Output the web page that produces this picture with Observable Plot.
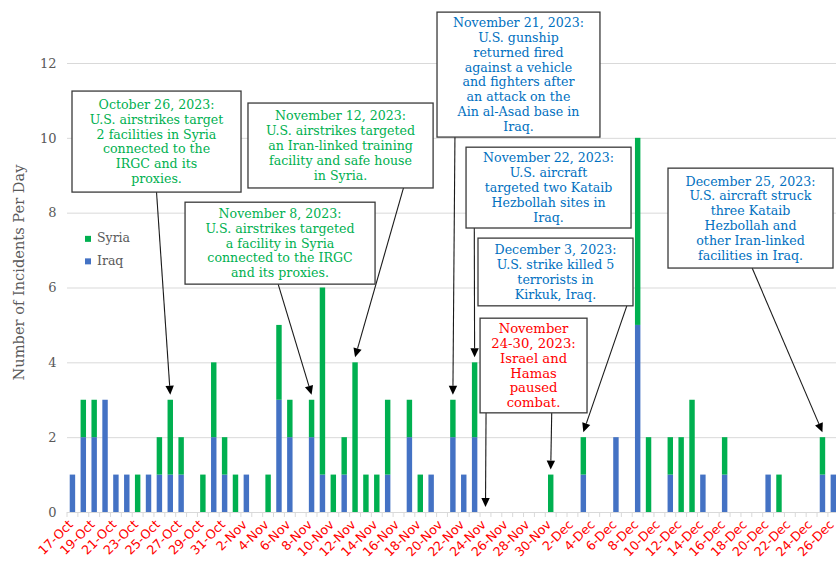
<!DOCTYPE html>
<html><head><meta charset="utf-8">
<script src="https://cdn.jsdelivr.net/npm/d3@7"></script>
<script src="https://cdn.jsdelivr.net/npm/@observablehq/plot@0.6"></script>
<style>
body{margin:0;background:#fff;}
#chart{width:836px;height:563px;overflow:hidden;}
</style></head><body><div id="chart"></div>
<script>
// ---- data ----
const days = ["17-Oct","18-Oct","19-Oct","20-Oct","21-Oct","22-Oct","23-Oct","24-Oct","25-Oct","26-Oct","27-Oct","28-Oct","29-Oct","30-Oct","31-Oct",
"1-Nov","2-Nov","3-Nov","4-Nov","5-Nov","6-Nov","7-Nov","8-Nov","9-Nov","10-Nov","11-Nov","12-Nov","13-Nov","14-Nov","15-Nov","16-Nov","17-Nov","18-Nov","19-Nov","20-Nov","21-Nov","22-Nov","23-Nov","24-Nov","25-Nov","26-Nov","27-Nov","28-Nov","29-Nov","30-Nov",
"1-Dec","2-Dec","3-Dec","4-Dec","5-Dec","6-Dec","7-Dec","8-Dec","9-Dec","10-Dec","11-Dec","12-Dec","13-Dec","14-Dec","15-Dec","16-Dec","17-Dec","18-Dec","19-Dec","20-Dec","21-Dec","22-Dec","23-Dec","24-Dec","25-Dec","26-Dec"];
const iraq  = [1,2,2,3,1,1,0,1,1,1,1, 0,0,2,1,0,1,0,0,3,2, 0,2,1,0,1,0,0,0,1,0, 2,0,1,0,2,1,2,0,0,0, 0,0,0,0,0,0,1,0,0,2, 0,5,0,0,1,0,0,1,0,1, 0,0,0,1,0,0,0,0,1,1];
const syria = [0,1,1,0,0,0,1,0,1,2,1, 0,1,2,1,1,0,0,1,2,1, 0,1,5,1,1,4,1,1,2,0, 1,1,0,0,1,0,2,0,0,0, 0,0,0,1,0,0,1,0,0,0, 0,5,2,0,1,2,3,0,0,1, 0,0,0,0,1,0,0,0,1,0];
const seriesNames = ["Iraq","Syria"];
const legendOrder = ["Syria","Iraq"];
const yTicks = [0,2,4,6,8,10,12];
const xTickLabels = days.filter((d,i)=>i%2===0);
const yLabel = "Number of Incidents Per Day";

const annotationText = [
  {lines:["October 26, 2023:","U.S. airstrikes target","2 facilities in Syria","connected to the","IRGC and its","proxies."], targets:["26-Oct"], kind:"Syria"},
  {lines:["November 12, 2023:","U.S. airstrikes targeted","an Iran-linked training","facility and safe house","in Syria."], targets:["12-Nov"], kind:"Syria"},
  {lines:["November 8, 2023:","U.S. airstrikes targeted","a facility in Syria","connected to the IRGC","and its proxies."], targets:["8-Nov"], kind:"Syria"},
  {lines:["November 21, 2023:","U.S. gunship","returned fired","against a vehicle","and fighters after","an attack on the","Ain al-Asad base in","Iraq."], targets:["21-Nov"], kind:"Iraq"},
  {lines:["November 22, 2023:","U.S. aircraft","targeted two Kataib","Hezbollah sites in","Iraq."], targets:["23-Nov"], kind:"Iraq"},
  {lines:["December 3, 2023:","U.S. strike killed 5","terrorists in","Kirkuk, Iraq."], targets:["3-Dec"], kind:"Iraq"},
  {lines:["November","24-30, 2023:","Israel and","Hamas","paused","combat."], targets:["24-Nov","30-Nov"], kind:"Pause"},
  {lines:["December 25, 2023:","U.S. aircraft struck","three Kataib","Hezbollah and","other Iran-linked","facilities in Iraq."], targets:["25-Dec"], kind:"Iraq"}
];

// ---- layout / styles (box corners in day-index and y-value units) ----
const annotationLayout = [
  {box:[-0.04,15.51,11.25,8.55], from:[0.5]},
  {box:[16.15,33.18,10.93,8.66], from:[0.84]},
  {box:[10.36,27.84,8.28,6.09], from:[0.49]},
  {box:[33.54,48.53,13.36,10.02], from:[0.11]},
  {box:[36.21,51.39,9.75,7.59], from:[0.05]},
  {box:[37.31,51.57,7.32,5.51], from:[0.96]},
  {box:[37.5,47.34,5.18,2.65], from:[0.056,0.67], size:13.2},
  {box:[54.79,69.97,9.19,6.52], from:[0.51]}
];
const textColors = {Syria:"#00b050", Iraq:"#0070c0", Pause:"#ff0000"};
const barColors = ["#4472c4","#00b050"];
const serif = "'DejaVu Serif', serif";
const sans = "'DejaVu Sans', sans-serif";

const data = [];
days.forEach((d,i)=>{
  data.push({day:d, series:"Iraq", count:iraq[i]});
  data.push({day:d, series:"Syria", count:syria[i]});
});

const W = 836, H = 563, L = 67, STEP = 10.87;
const plot = Plot.plot({
  width: W, height: H,
  marginLeft: L, marginRight: 0, marginTop: 63, marginBottom: 51,
  style: {fontFamily: serif, fontSize: "13px", color: "#595959", background: "#fff", overflow: "visible"},
  x: {type:"band", domain: days, range:[L, L + days.length*STEP], paddingInner:0.5, paddingOuter:0.25, round:false, label:null},
  y: {domain:[0,12], ticks:yTicks, label:null},
  color: {domain: seriesNames, range: barColors},
  marks: [
    Plot.gridY(yTicks.filter(t=>t>0), {stroke:"#d9d9d9", strokeOpacity:1}),
    Plot.axisY(yTicks, {tickSize:0, tickPadding:11, label:null, fontSize:13, fill:"#595959", fontFamily:serif}),
    Plot.barY(data, {x:"day", y:"count", fill:"series"}),
    Plot.ruleY([0], {stroke:"#d9d9d9"}),
    Plot.axisX(xTickLabels, {tickSize:0, tickRotate:-45, tickPadding:10, dx:-2, fill:"#ff0000", fontFamily:sans, fontSize:12.6, label:null})
  ]
});
document.getElementById("chart").append(plot);

// ---- annotations drawn through the plot's scales ----
const xs = plot.scale("x"), ys = plot.scale("y"), cs = plot.scale("color");
const step = xs.apply(days[1]) - xs.apply(days[0]);
const bw = xs.bandwidth ?? step*0.5;
const x0 = xs.apply(days[0]) + bw/2;
const xAt = idx => x0 + idx*step;
const xDay = d => xs.apply(d) + bw/2;
const yAt = v => ys.apply(v);
const svg = d3.select(plot);
const g = svg.append("g");

// category boundary ticks
const yBase = yAt(0);
g.append("g").selectAll("line").data(d3.range(days.length+1)).join("line")
  .attr("x1", k=>xAt(k-0.5)).attr("x2", k=>xAt(k-0.5))
  .attr("y1", yBase).attr("y2", yBase+5)
  .attr("stroke","#d9d9d9");

// y axis title
g.append("text").attr("transform", `translate(20,${yAt(6.4)}) rotate(-90)`)
  .attr("text-anchor","middle").attr("dominant-baseline","middle")
  .attr("font-family", serif).attr("font-size", 14.6).attr("fill","#595959")
  .text(yLabel);

// legend
legendOrder.forEach((s,i)=>{
  const ly = yAt(7.3) + i*22.5;
  g.append("rect").attr("x", L+18).attr("y", ly-3).attr("width",6).attr("height",6).attr("fill", cs.apply(s));
  g.append("text").attr("x", L+30).attr("y", ly).attr("text-anchor","start").attr("dominant-baseline","middle")
    .attr("font-family", serif).attr("font-size", 12.5).attr("fill","#595959").text(s);
});

function arrow(x1,y1,x2,y2){
  const a = Math.atan2(y2-y1, x2-x1), hl = 9, hw = 4.2;
  const bx = x2 - hl*Math.cos(a), by = y2 - hl*Math.sin(a);
  g.append("line").attr("x1",x1).attr("y1",y1).attr("x2",bx).attr("y2",by).attr("stroke","#1a1a1a").attr("stroke-width",1.1);
  const px = -Math.sin(a)*hw, py = Math.cos(a)*hw;
  g.append("path").attr("d",`M${x2},${y2}L${bx+px},${by+py}L${bx-px},${by-py}Z`).attr("fill","#000");
}

annotationText.forEach((ann,i)=>{
  const lay = annotationLayout[i];
  const [i1,i2,v1,v2] = lay.box;
  const bx1 = xAt(i1), bx2 = xAt(i2), by1 = yAt(v1), by2 = yAt(v2);
  ann.targets.forEach((t,j)=>{
    const sx = bx1 + (bx2-bx1)*lay.from[j];
    const top = iraq[days.indexOf(t)] + syria[days.indexOf(t)];
    arrow(sx, by2, xDay(t), yAt(top) - 5);
  });
  g.append("rect").attr("x",bx1).attr("y",by1).attr("width",bx2-bx1).attr("height",by2-by1)
    .attr("fill","#fff").attr("stroke","#3a3a3a").attr("stroke-width",1.3);
  const lh = 14.8, n = ann.lines.length, cy = (by1+by2)/2;
  const t = g.append("text").attr("text-anchor","middle").attr("font-family", serif)
    .attr("font-size", lay.size || 12.6).attr("fill", textColors[ann.kind]);
  ann.lines.forEach((ln,k)=>{
    t.append("tspan").attr("x",(bx1+bx2)/2).attr("y", cy + (k-(n-1)/2)*lh).attr("dy","0.35em").text(ln);
  });
});
</script></body></html>
